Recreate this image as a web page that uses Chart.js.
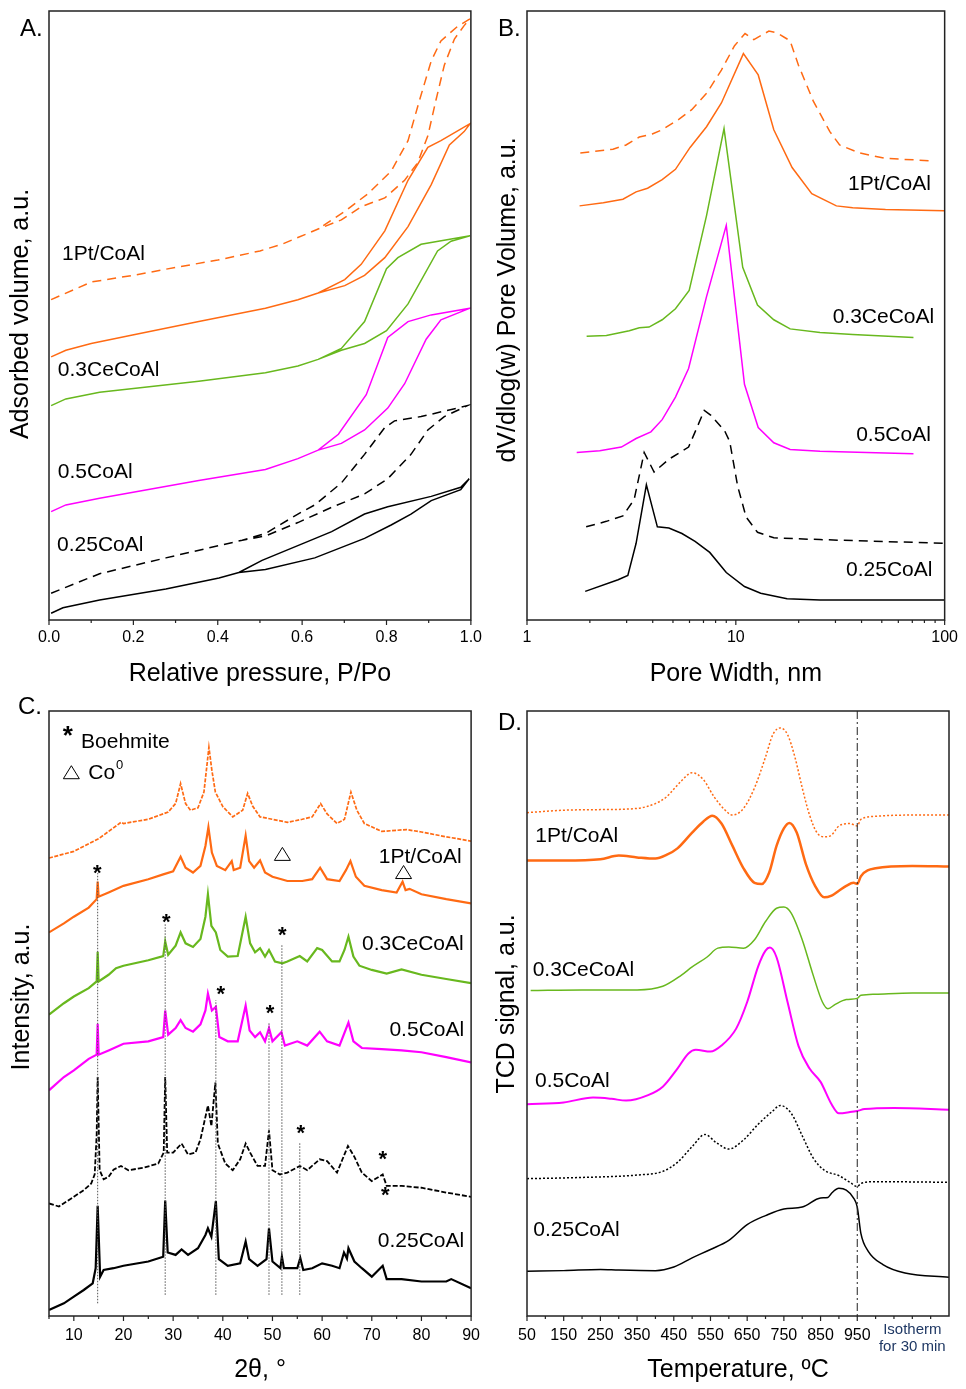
<!DOCTYPE html>
<html>
<head>
<meta charset="utf-8">
<script src="https://cdn.jsdelivr.net/npm/chart.js"></script>
<style>
  body { margin: 0; background: #fff; width: 966px; height: 1389px; position: relative; overflow: hidden; }
  .panel { position: absolute; }
</style>
</head>
<body>
<div class="panel" style="left:0;top:0"><canvas id="cA" width="490" height="690"></canvas></div>
<div class="panel" style="left:490px;top:0"><canvas id="cB" width="476" height="690"></canvas></div>
<div class="panel" style="left:0;top:690px"><canvas id="cC" width="490" height="699"></canvas></div>
<div class="panel" style="left:490px;top:690px"><canvas id="cD" width="476" height="699"></canvas></div>
<script>
// ---- A. N2 isotherms (relative pressure vs adsorbed volume, a.u.) ----
const isoPtRedP = [0.005,0.1,0.2,0.3,0.4,0.5,0.552,0.638,0.693,0.741,0.796,0.843,0.874,0.898,0.917,0.937,0.961,0.984,0.998,0.969,0.929,0.906,0.878,0.851,0.811,0.756,0.701,0.638];
const isoPtRedV = [52.6,55.5,56.6,57.9,59.1,60.6,61.7,64.2,65.7,67.9,69.3,72.2,75.1,79.5,85.3,91.1,95.4,97.6,98.7,97.5,95.1,91.8,85.3,78.7,73.7,70.0,67.1,64.2];
const isoPtP = [0.005,0.04,0.1,0.198,0.355,0.513,0.59,0.638,0.701,0.748,0.796,0.851,0.906,0.949,0.984,0.998,0.929,0.898,0.851,0.796,0.74,0.701,0.638];
const isoPtV = [43.2,44.3,45.4,46.8,49,51.2,52.6,53.7,54.9,56.6,59.5,64.6,71.5,78,80.2,81.5,78.7,77.6,72.2,63.9,58.4,55.9,53.7];
const isoCeP = [0.005,0.04,0.12,0.355,0.513,0.59,0.638,0.693,0.748,0.8,0.851,0.921,0.953,0.998,0.882,0.827,0.8,0.748,0.693,0.638];
const isoCeV = [35.2,36.3,37.4,39.2,40.6,41.7,42.8,44.3,45.4,47.5,51.9,60.6,62.2,63.1,61.7,59.5,57.7,49,44.6,42.8];
const iso05P = [0.005,0.04,0.12,0.355,0.513,0.59,0.638,0.693,0.748,0.803,0.843,0.894,0.929,0.998,0.906,0.851,0.803,0.752,0.686,0.638];
const iso05V = [17.8,18.9,20,22.9,24.7,26.5,27.9,29,31.2,34.8,38.8,46.1,49.3,51.2,50.1,49,46.4,37,30.5,27.9];
const iso025RedP = [0.005,0.12,0.277,0.458,0.513,0.59,0.67,0.748,0.803,0.858,0.898,0.937,0.992,0.882,0.819,0.796,0.748,0.693,0.63,0.59,0.513,0.458];
const iso025RedV = [4.4,7.6,10.2,13.1,13.8,16,18.5,20.7,23.2,27.2,31.2,33.4,35.2,33.4,32.7,31.6,27.2,22.5,18.9,17.4,14.2,13.1];
const iso025P = [0.005,0.033,0.12,0.277,0.403,0.45,0.513,0.63,0.748,0.811,0.858,0.906,0.976,0.996,0.976,0.906,0.803,0.748,0.67,0.607,0.505,0.45];
const iso025V = [1.1,2,3.3,5.1,6.9,7.8,8.3,10.2,13.4,15.6,17.4,19.6,21.4,23.2,21.8,20.3,18.6,17.4,14.5,12.7,9.8,7.8];

// ---- B. Pore size distribution (pore width nm vs dV/dlog(w)) ----
const psdPtRedW = [1.80,2.58,2.98,3.45,3.98,4.44,5.33,6.15,7.25,8.53,9.86,11.07,12.2,14.4,15.8,18.2,19.95,23.5,28.2,31.4,39,52.1,86.5];
const psdPtRedV = [76.7,77.3,78,79.3,79.8,80.5,82.2,83.8,86.5,90.3,94.3,96.3,95.3,96.7,96.4,95.1,91.1,85.2,80.2,78,76.7,75.8,75.4];
const psdPtW = [1.785,2.32,2.88,3.33,3.78,4.44,5.14,6.04,7.24,8.53,10.87,12.8,15.2,18.6,23.1,30.3,36.3,52.1,100];
const psdPtV = [68,68.5,69.1,70.3,70.9,72.3,74,77.6,81,84.9,93,89.5,80.5,74.3,70,68,67.7,67.4,67.2];
const psdCeW = [1.93,2.4,3.09,3.45,3.84,4.44,5.14,5.98,7.24,8.78,10.79,12.7,15.2,18.2,25.3,36.3,70.9];
const psdCeV = [46.6,46.7,47.5,48,48.1,49.3,51.1,54.1,66.4,80.7,57.9,51.7,49.3,47.8,47.2,46.9,46.4];
const psd05W = [1.73,2.23,2.83,3.33,3.92,4.44,5.14,5.94,7.24,9.0,11,12.8,15.2,18.2,25.3,70.9];
const psd05V = [27.5,27.8,28.4,29.8,30.9,32.9,36.6,41.3,53.1,64.8,38.7,31.6,29.1,28,27.7,27.3];
const psd025RedW = [1.92,2.4,2.88,3.26,3.64,4.06,4.78,5.94,7.06,7.6,8.83,9.35,10.2,11.2,12.7,15.2,25.3,100];
const psd025RedV = [15.3,16.2,17.1,19.8,27.5,24.3,26.4,28.4,34.4,33.6,31.1,29.3,22,16.9,14.4,13.5,13.2,12.6];
const psd025W = [1.9,2.73,3.04,3.33,3.73,4.21,4.78,5.52,6.38,7.5,9.0,11,13.15,17.6,25.3,100];
const psd025V = [4.7,6.6,7.3,12.6,22.2,15.3,15.1,14.2,12.9,11.1,7.8,5.5,4.4,3.5,3.3,3.3];

// ---- C. XRD patterns (2theta vs intensity, a.u.) ----
const xrdPtRedT = [5,10,15,19.5,20,25,29,30.5,31.5,32.5,33.5,35,36.2,36.8,37.2,37.8,38.5,40,42,44,45,46,47.5,50,53,56,58,59.7,61,63,64.5,65.8,67,68.5,72,77,80,85,90];
const xrdPtRedI = [75.7,76.8,78.9,81.6,81.4,82.1,83.3,84.7,88,84.7,83.6,84,86.6,91,94,90.2,86.6,84.2,82.5,83.6,86.4,84.3,82.5,82.1,81.6,82.1,82.5,84.7,83,81.4,82.1,86.6,83.6,81.4,80.1,80.4,80,79.2,78.5];
const xrdPtT = [5,8,10,13,14.6,14.8,15,17,20,25,28,30,31.5,32.5,34,35.5,36.5,37.1,37.8,38.8,40.5,41.8,42.2,43.5,44.6,45.3,46.3,47.5,48.5,50,51.8,53,56,58,59.6,61,63.5,64.8,65.7,66.8,68.5,72,75,76.2,76.8,77.6,80,85,90];
const xrdPtI = [63.4,64.9,66,67.5,68.9,71.8,69.3,70,71.1,72.2,73,73.5,75.9,74.1,73.3,74.4,77.7,80.8,76.6,74.4,73.7,75.2,73.7,74.1,79.4,75.2,74.1,75.3,73.3,72.6,72.2,71.9,71.9,72.2,74.1,72.2,71.9,73.7,75.2,72.6,71.1,70.4,70,71.8,70.4,70.6,69.7,68.9,68.2];
const xrdCeT = [5,8,10,13,14.6,14.8,15,17,18.5,20,25,28,28.4,29,30.5,31.5,32.5,34,35.5,36.5,37,37.7,38.6,39.5,41,43,44.6,45.5,46.5,47.5,48.5,49.3,50.5,52,53,55.5,57,59,60,62,63.5,64.5,65.3,66.3,67.5,70,73,76,80,85,90];
const xrdCeI = [49.8,51.7,52.8,54.2,55.3,60.2,55.3,56.4,57.5,57.9,58.8,59.5,61.9,59.7,61.2,63.4,61.6,61,62.3,66,69.7,64.5,63.4,60.5,59.4,59.5,66,61.6,60.1,60.8,59.4,60.5,58.6,58.3,58.6,59.5,58.6,60.8,60.5,58.6,58.6,60.5,62.7,59.4,57.9,57.2,56.6,57.3,56.4,55.7,55];
const xrd05T = [5,8,10,13,14.6,14.8,15,17,20,25,28,28.4,29,30.5,31.5,32.5,34,35.5,36.5,37,37.8,38.6,39.3,41,43,44.6,45.4,46.5,47.5,48.5,49.3,50,51.8,52.5,55,57,59.5,61,63.5,65.3,66.3,68,72,76,80,85,90];
const xrd05I = [37.3,39.5,40.6,42.5,43.2,48.3,43.2,43.9,45,45.4,46.1,50.5,46.5,47.6,48.9,47.6,47,48.2,50.5,53.3,50.5,51.1,46.1,45.4,45.4,51.3,47.2,46.1,46.9,45.4,47.6,45.4,46.9,44.7,45.4,44.7,47,45.4,44.7,48.5,45.4,44.3,44.1,43.9,43.6,42.8,41.9];
const xrd025RedT = [5,7,10,12,13.5,14.2,14.6,14.8,15.2,16,17,18,19.5,21,24,27,28.1,28.4,28.8,30,31.7,33,34.5,35.5,36.5,37,37.7,38.5,39,40.5,42,43.5,44.6,45.5,47,48.5,49.3,50,51.5,53,55.5,57,59.5,61,63,64.5,65.2,66.5,68,70,72.2,73,76,80,85,90];
const xrd025RedI = [18.6,18.1,19.7,20.8,21.9,23.4,30,39.5,24.1,22.6,23,24.2,24.8,24.1,24.5,25.2,27,39.5,27,27,28.5,26.7,27,29.2,32.9,34.8,31.4,38.6,28.5,25.2,24.1,25.9,28.5,27,24.8,24.8,30.7,24.1,23.4,23.7,24.8,24.1,25.9,25.6,23.7,26.7,28.1,26.3,23.7,22.3,23.4,21.5,21.5,21.2,20.4,19.7];
const xrd025T = [5,8,10,12,13.8,14.4,14.8,15.3,16,18,20,25,28,28.4,28.9,30.5,31.7,33,35,36.5,37,37.7,38.6,39.2,41,43.5,44.6,45.3,47,48.8,49.3,50,51.6,51.9,52.3,55,55.6,56.2,58,60,62,63.5,64.4,65,65.3,66.5,68,70,72.2,73,76,80,85,86,90];
const xrd025I = [1,2.1,3.2,4.3,5.4,7.9,18.2,6.5,7.6,7.9,8.3,9,9.8,19.1,10.5,10.1,11,10.1,11.2,13.4,14.5,13.1,19,9.4,8.3,8.7,12.3,9.4,8.3,9.4,14.5,9,7.9,9.8,7.9,7.9,9.6,7.6,7.9,8.7,8.3,7.9,10.5,9.5,11.2,9,7.9,6.5,8.3,6.1,6.1,5.7,5.7,6.1,4.6];

// ---- D. H2-TPR profiles (temperature vs TCD signal, a.u.) ----
const tprPtRedT = [50,150,250,350,400,430,470,500,530,560,590,610,640,670,700,720,740,760,780,800,820,840,860,880,900,930,950,960,1000,1100,1200];
const tprPtRedS = [83.2,83.6,83.7,83.9,84.7,85.8,88.4,89.8,88.7,85.8,83.6,82.8,83.9,87.3,92.4,96.1,97.2,96.1,92.4,87.3,82.8,79.9,79.2,79.5,81,81.4,81,82.1,82.6,82.8,82.8];
const tprPtT = [50,150,250,300,350,400,430,460,500,530,555,580,610,640,670,690,710,730,750,765,785,810,835,860,880,900,920,940,950,960,1000,1100,1200];
const tprPtS = [75.3,75.3,75.5,76.1,75.8,75.6,76.2,77.3,79.9,81.7,82.7,81.4,77.7,74,71.6,71.4,73.3,77.7,80.6,81.5,79.9,74.7,71.1,69.2,69.5,70.3,71.1,71.6,71.4,72.7,74,74.4,74.3];
const tprCeT = [60,200,350,420,470,500,540,570,600,640,670,700,730,750,770,800,830,855,870,890,920,950,960,1000,1100,1200];
const tprCeS = [53.8,53.9,53.9,54.5,56.3,57.7,59.3,60.8,61,60.8,62.2,65.2,67.4,67.6,66.6,62.2,56.3,51.9,50.8,51.5,52.3,52.5,53,53.2,53.4,53.4];
const tpr05T = [50,150,230,280,320,380,420,460,490,510,550,580,620,650,680,700,712,730,760,790,820,850,880,900,930,950,970,1050,1200];
const tpr05S = [35,35.3,36.1,35.9,35.6,36.5,37.9,40.9,43.4,44,43.7,44.7,47.5,51.9,57.8,60.4,60.9,59.3,51.9,44.6,40.9,38.7,35,33.5,33.7,33.9,34.2,34.4,34.1];
const tpr025RedT = [50,200,350,420,460,500,535,565,600,640,680,720,740,770,800,830,860,900,930,950,960,1000,1200];
const tpr025RedS = [22.7,22.9,23.3,23.9,25.4,28,30,28.7,27.6,29.1,31.7,33.9,34.8,33.5,29.8,26.1,24.1,23.2,22.1,21.4,21.9,22.2,22.1];
const tpr025T = [50,150,250,300,400,450,500,550,600,650,700,750,800,850,870,880,900,920,940,950,960,980,1020,1080,1200];
const tpr025S = [7.4,7.5,7.7,7.6,7.5,8.1,9.6,11,12.5,15.1,16.6,17.7,18,19.5,19.6,20.3,21.1,20.8,19.5,18,13.6,10.7,8.5,7.1,6.4];

const ORANGE = '#ff6a13', GREEN = '#68b81e', MAGENTA = '#ff00ff', BLACK = '#000000';
const FONT = '"Liberation Sans", Arial, sans-serif';
Chart.defaults.font.family = FONT;
Chart.defaults.color = '#000';

function series(xs, ys, color, extra) {
  return Object.assign({
    data: xs.map((x, i) => ({ x, y: ys[i] })),
    borderColor: color, borderWidth: 1.5, pointRadius: 0,
    showLine: true, fill: false, tension: 0
  }, extra || {});
}

// frame, outward ticks, series names, panel letter and y title
function decor(d) {
  return {
    id: 'decor',
    afterDatasetsDraw(chart) {
      const { ctx, chartArea: a } = chart;
      const X = v => chart.scales.x.getPixelForValue(v);
      const Y = v => chart.scales.y.getPixelForValue(v);
      ctx.save();
      if (d.draw) d.draw(ctx, X, Y, a);
      ctx.setLineDash([]);
      ctx.strokeStyle = '#222';
      ctx.lineWidth = 1.5;
      ctx.strokeRect(a.left, a.top, a.right - a.left, a.bottom - a.top);
      ctx.lineWidth = 1.2;
      ctx.beginPath();
      d.major.forEach(v => { const p = X(v); ctx.moveTo(p, a.bottom); ctx.lineTo(p, a.bottom + 5); });
      d.minor.forEach(v => { const p = X(v); ctx.moveTo(p, a.bottom); ctx.lineTo(p, a.bottom + 3); });
      ctx.stroke();

      ctx.fillStyle = '#000';
      ctx.textBaseline = 'middle';
      ctx.font = '21px ' + FONT;
      d.labels.forEach(l => { ctx.textAlign = l.align || 'left'; ctx.fillText(l.text, X(l.x), Y(l.y)); });

      ctx.textAlign = 'left';
      ctx.font = '24px ' + FONT;
      ctx.fillText(d.letter, d.letterX, d.letterY);

      ctx.translate(d.titleX, d.titleY);
      ctx.rotate(-Math.PI / 2);
      ctx.textAlign = 'center';
      ctx.font = '25px ' + FONT;
      ctx.fillText(d.title, 0, 0);
      ctx.restore();
    }
  };
}

function makePanel(id, o) {
  return new Chart(document.getElementById(id), {
    type: 'scatter',
    data: { datasets: o.datasets },
    plugins: [decor(o.decor)],
    options: {
      responsive: false, animation: false, events: [],
      layout: { padding: o.padding },
      plugins: { legend: { display: false }, tooltip: { enabled: false } },
      scales: {
        x: {
          type: o.xType || 'linear', min: o.xMin, max: o.xMax,
          afterBuildTicks: s => { s.ticks = o.xTicks.map(v => ({ value: v })); },
          afterFit: s => { s.height = o.xHeight; },
          ticks: { font: { size: 16 }, padding: o.tickPad, maxRotation: 0, autoSkip: false, callback: o.tickFmt },
          grid: { display: false, drawTicks: false },
          border: { display: false },
          title: { display: true, text: o.xTitle, font: { size: 25, lineHeight: 1 }, padding: { top: 0, bottom: o.titlePad } }
        },
        y: {
          min: 0, max: 100,
          afterFit: s => { s.width = o.yWidth; },
          ticks: { display: false },
          grid: { display: false, drawTicks: false },
          border: { display: false }
        }
      }
    }
  });
}

const dashA = [9, 6];

makePanel('cA', {
  datasets: [
    series(iso025P, iso025V, BLACK),
    series(iso025RedP, iso025RedV, BLACK, { borderDash: dashA }),
    series(iso05P, iso05V, MAGENTA),
    series(isoCeP, isoCeV, GREEN),
    series(isoPtP, isoPtV, ORANGE),
    series(isoPtRedP, isoPtRedV, ORANGE, { borderDash: dashA })
  ],
  padding: { top: 11, right: 17, left: 0, bottom: 0 },
  xMin: 0, xMax: 1, xTicks: [0, 0.2, 0.4, 0.6, 0.8, 1.0], tickFmt: v => v.toFixed(1),
  xHeight: 70, tickPad: 8, titlePad: 3, yWidth: 49,
  xTitle: 'Relative pressure, P/Po',
  decor: {
    major: [0, 0.2, 0.4, 0.6, 0.8, 1.0], minor: [0.1, 0.3, 0.5, 0.7, 0.9],
    labels: [
      { text: '1Pt/CoAl', x: 0.031, y: 60.1 },
      { text: '0.3CeCoAl', x: 0.021, y: 41 },
      { text: '0.5CoAl', x: 0.021, y: 24.3 },
      { text: '0.25CoAl', x: 0.019, y: 12.2 }
    ],
    letter: 'A.', letterX: 20, letterY: 29,
    title: 'Adsorbed volume, a.u.', titleX: 21, titleY: 314
  }
});

makePanel('cB', {
  datasets: [
    series(psd025W, psd025V, BLACK),
    series(psd025RedW, psd025RedV, BLACK, { borderDash: dashA }),
    series(psd05W, psd05V, MAGENTA),
    series(psdCeW, psdCeV, GREEN),
    series(psdPtW, psdPtV, ORANGE),
    series(psdPtRedW, psdPtRedV, ORANGE, { borderDash: dashA })
  ],
  padding: { top: 11, right: 17, left: 0, bottom: 0 },
  xType: 'logarithmic', xMin: 1, xMax: 100, xTicks: [1, 10, 100], tickFmt: v => String(v),
  xHeight: 70, tickPad: 8, titlePad: 3, yWidth: 37,
  xTitle: 'Pore Width, nm',
  decor: {
    major: [1, 10, 100], minor: [2, 3, 4, 5, 6, 7, 8, 9, 20, 30, 40, 50, 60, 70, 80, 90],
    labels: [
      { text: '1Pt/CoAl', x: 85.9, y: 71.6, align: 'right' },
      { text: '0.3CeCoAl', x: 89.1, y: 49.8, align: 'right' },
      { text: '0.5CoAl', x: 85.9, y: 30.4, align: 'right' },
      { text: '0.25CoAl', x: 87.4, y: 8.2, align: 'right' }
    ],
    letter: 'B.', letterX: 8, letterY: 29,
    title: 'dV/dlog(w) Pore Volume, a.u.', titleX: 18, titleY: 300
  }
});

// boehmite reflections and Co0 marks on the XRD panel
function drawXrdMarks(ctx, X, Y, a) {
  const guides = [[14.8, 2.1, 73.2], [28.4, 3.5, 65], [38.6, 3.5, 52.2], [49.3, 3.5, 48.6], [51.9, 3.5, 61.3], [55.5, 3.5, 28.6]];
  ctx.strokeStyle = '#555';
  ctx.lineWidth = 1;
  ctx.setLineDash([1.5, 1.5]);
  guides.forEach(([t, lo, hi]) => {
    ctx.beginPath();
    ctx.moveTo(X(t), Y(lo));
    ctx.lineTo(X(t), Y(hi));
    ctx.stroke();
  });
  ctx.setLineDash([]);

  const stars = [[14.7, 74], [28.6, 66], [52, 63.8], [39.6, 54.1], [49.5, 50.9], [55.7, 31.1], [72.2, 26.7], [72.7, 20.8]];
  ctx.fillStyle = '#000';
  ctx.textAlign = 'center';
  ctx.textBaseline = 'alphabetic';
  ctx.font = 'bold 22px ' + FONT;
  stars.forEach(([t, v]) => ctx.fillText('*', X(t), Y(v) + 12));

  const tri = (cx, cy) => {
    ctx.beginPath();
    ctx.moveTo(cx, cy - 7);
    ctx.lineTo(cx + 8, cy + 6);
    ctx.lineTo(cx - 8, cy + 6);
    ctx.closePath();
    ctx.strokeStyle = '#000';
    ctx.lineWidth = 1;
    ctx.stroke();
  };
  [[52, 76.3], [76.4, 73.3]].forEach(([t, v]) => tri(X(t), Y(v)));

  // legend
  ctx.font = 'bold 26px ' + FONT;
  ctx.fillText('*', X(8.8), Y(96.9) + 14);
  ctx.textAlign = 'left';
  ctx.textBaseline = 'middle';
  ctx.font = '21px ' + FONT;
  ctx.fillText('Boehmite', X(11.45), Y(94.9));
  tri(X(9.5), Y(89.8));
  ctx.fillText('Co', X(12.9), Y(89.8));
  const coW = ctx.measureText('Co').width;
  ctx.font = '13px ' + FONT;
  ctx.fillText('0', X(12.9) + coW + 1, Y(89.8) - 7);
}

makePanel('cC', {
  datasets: [
    series(xrd025T, xrd025I, BLACK, { borderWidth: 2.2 }),
    series(xrd025RedT, xrd025RedI, BLACK, { borderWidth: 1.8, borderDash: [5, 2] }),
    series(xrd05T, xrd05I, MAGENTA, { borderWidth: 2.2 }),
    series(xrdCeT, xrdCeI, GREEN, { borderWidth: 2.2 }),
    series(xrdPtT, xrdPtI, ORANGE, { borderWidth: 2.2 }),
    series(xrdPtRedT, xrdPtRedI, ORANGE, { borderWidth: 1.7, borderDash: [4, 1.5] })
  ],
  padding: { top: 21, right: 17, left: 0, bottom: 0 },
  xMin: 5, xMax: 90, xTicks: [10, 20, 30, 40, 50, 60, 70, 80, 90], tickFmt: v => String(v),
  xHeight: 73, tickPad: 10, titlePad: 6, yWidth: 49,
  xTitle: '2θ, °',
  decor: {
    major: [10, 20, 30, 40, 50, 60, 70, 80, 90], minor: [5, 15, 25, 35, 45, 55, 65, 75, 85],
    labels: [
      { text: '1Pt/CoAl', x: 88.1, y: 75.9, align: 'right' },
      { text: '0.3CeCoAl', x: 88.5, y: 61.4, align: 'right' },
      { text: '0.5CoAl', x: 88.6, y: 47.2, align: 'right' },
      { text: '0.25CoAl', x: 88.6, y: 12.3, align: 'right' }
    ],
    letter: 'C.', letterX: 18, letterY: 17,
    title: 'Intensity, a.u.', titleX: 22, titleY: 307,
    draw: drawXrdMarks
  }
});

// 950 °C hold marker on the TPR panel
function drawIsotherm(ctx, X, Y, a) {
  ctx.strokeStyle = '#222';
  ctx.lineWidth = 1;
  ctx.setLineDash([8, 3, 2, 3]);
  ctx.beginPath();
  ctx.moveTo(X(950), a.top);
  ctx.lineTo(X(950), a.bottom);
  ctx.stroke();
  ctx.setLineDash([]);
  ctx.fillStyle = '#1f3864';
  ctx.font = '15px ' + FONT;
  ctx.textAlign = 'center';
  ctx.textBaseline = 'middle';
  ctx.fillText('Isotherm', X(1100), a.bottom + 14);
  ctx.fillText('for 30 min', X(1100), a.bottom + 31);
}

const smooth = { cubicInterpolationMode: 'monotone' };

makePanel('cD', {
  datasets: [
    series(tpr025T, tpr025S, BLACK, smooth),
    series(tpr025RedT, tpr025RedS, BLACK, Object.assign({ borderDash: [2, 2] }, smooth)),
    series(tpr05T, tpr05S, MAGENTA, Object.assign({ borderWidth: 2 }, smooth)),
    series(tprCeT, tprCeS, GREEN, smooth),
    series(tprPtT, tprPtS, ORANGE, Object.assign({ borderWidth: 2.5 }, smooth)),
    series(tprPtRedT, tprPtRedS, ORANGE, Object.assign({ borderDash: [2, 2] }, smooth))
  ],
  padding: { top: 21, right: 17, left: 0, bottom: 0 },
  xMin: 50, xMax: 1200, xTicks: [50, 150, 250, 350, 450, 550, 650, 750, 850, 950], tickFmt: v => String(v),
  xHeight: 73, tickPad: 10, titlePad: 6, yWidth: 37,
  xTitle: 'Temperature, ºC',
  decor: {
    major: [50, 150, 250, 350, 450, 550, 650, 750, 850, 950],
    minor: [100, 200, 300, 400, 500, 600, 700, 800, 900, 1000, 1050, 1100, 1150],
    labels: [
      { text: '1Pt/CoAl', x: 72.7, y: 79.3 },
      { text: '0.3CeCoAl', x: 65.4, y: 57.2 },
      { text: '0.5CoAl', x: 71.8, y: 38.8 },
      { text: '0.25CoAl', x: 67.2, y: 14.1 }
    ],
    letter: 'D.', letterX: 8, letterY: 33,
    title: 'TCD signal, a.u.', titleX: 17, titleY: 314,
    draw: drawIsotherm
  }
});
</script>
</body>
</html>
